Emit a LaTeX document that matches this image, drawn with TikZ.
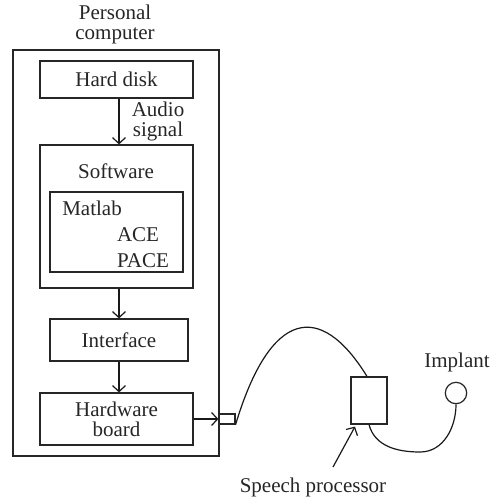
\documentclass[tikz,border=0pt]{standalone}
\usepackage{fontspec}
\setmainfont{Liberation Serif}
\usetikzlibrary{arrows.meta}
\begin{document}
\begin{tikzpicture}[x=1pt,y=-1pt,
  every node/.style={font=\fontsize{21}{23}\selectfont, text=black!85},
  blk/.style={draw, line width=1.2pt, inner sep=0pt, draw=black!85},
  lbl/.style={inner sep=0pt},
  flow/.style={line width=1.2pt, draw=black!90, -{Straight Barb[length=6pt,width=13pt,line width=1.2pt]}},
  cable/.style={line width=1.2pt, draw=black!90}]
\useasboundingbox (0,0) rectangle (500,496);
% boxes
\node[blk, minimum width=206pt, minimum height=406pt] (pc) at (116,253) {};
\node[blk, minimum width=153pt, minimum height=37pt] (hd) at (116.5,79.5) {Hard disk};
\node[blk, minimum width=153pt, minimum height=143pt] (sw) at (116.5,216.5) {};
\node[blk, minimum width=133pt, minimum height=80pt] (ml) at (116.5,232) {};
\node[blk, minimum width=138pt, minimum height=42pt] (if) at (119,340) {Interface};
\node[blk, minimum width=153pt, minimum height=52pt, align=center] (hw) at (116.5,419) {Hardware\\[-3pt]board};
\node[blk, minimum width=16pt, minimum height=10pt] (cn) at (227,419) {};
\node[blk, minimum width=36pt, minimum height=47pt] (sp) at (369,400.5) {};
\node[blk, circle, minimum size=21.4pt] (im) at (456,393) {};
% labels
\node[lbl, align=center] (pcl) at (115,24) {Personal\\[-3pt]computer};
\node[lbl, align=center] (aud) at (158,121) {Audio\\[-3pt]signal};
\node[lbl] (swl) at (116,171) {Software};
\node[lbl] (mll) at (92,208) {Matlab};
\node[lbl] (ace) at (138,235) {ACE};
\node[lbl] (pace) at (143,261) {PACE};
\node[lbl] (iml) at (457,362) {Implant};
\node[lbl] (spl) at (313,487) {Speech processor};
% flow arrows
\draw[flow] ([xshift=2.5pt]hd.south) -- ([xshift=2.5pt]sw.north);
\draw[flow] ([xshift=2.5pt]sw.south) -- (if.north);
\draw[flow] (if.south) -- ([xshift=2.5pt]hw.north);
\draw[flow] (hw.east) -- (cn.west);
% cables
\draw[cable] (cn.south east) .. controls (270,310) and (320,300) .. ([xshift=-2pt]sp.north);
\draw[cable] (sp.south) to[out=-75,in=180] (420,452) to[out=0,in=-90] (im.south);
\coordinate (spa) at (333,467);
\draw[flow] (spa) -- ([xshift=-14pt,yshift=-2pt]sp.south);
\end{tikzpicture}
\end{document}
